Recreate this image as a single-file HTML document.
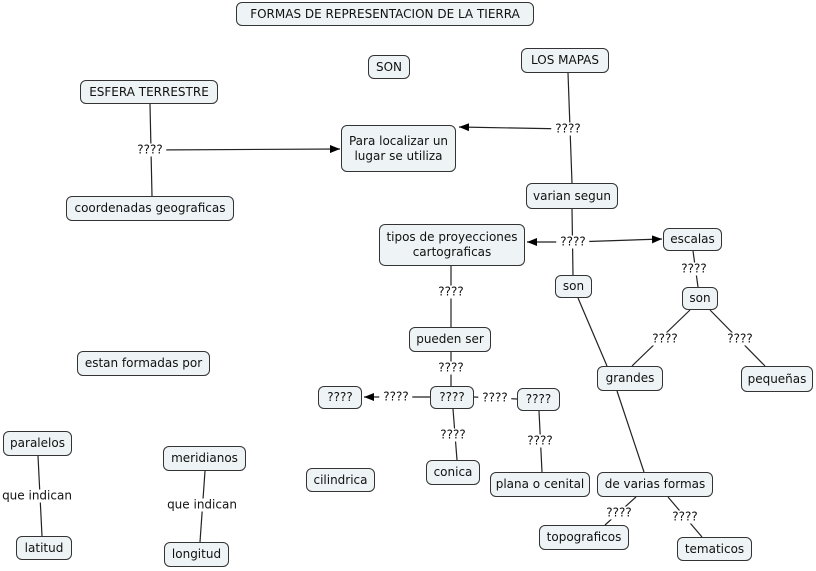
<!DOCTYPE html>
<html><head><meta charset="utf-8"><style>
body{margin:0;width:816px;height:571px;background:#fff;position:relative;overflow:hidden;font-family:"DejaVu Sans","Liberation Sans",sans-serif;font-size:12px;color:#111}
.n{position:absolute;box-sizing:border-box;border:1px solid #333;border-radius:6px;background:#eef3f5;display:flex;align-items:center;justify-content:center;text-align:center;line-height:15px;white-space:nowrap}
.l{position:absolute;background:#fff;transform:translate(-50%,-50%);line-height:13px;white-space:nowrap;padding:0 4px}
svg{position:absolute;left:0;top:0}
</style></head><body>
<svg width="816" height="571">
<defs><marker id="a" markerWidth="10" markerHeight="8" refX="10" refY="4" orient="auto" markerUnits="userSpaceOnUse"><path d="M0,0L10,4L0,8z" fill="#000"/></marker></defs>
<g stroke="#222" stroke-width="1.2" fill="none">
<line x1="568" y1="73" x2="572" y2="183"/>
<line x1="568" y1="129" x2="459" y2="127" marker-end="url(#a)"/>
<line x1="150" y1="104" x2="152" y2="196"/>
<line x1="150" y1="150" x2="340" y2="149" marker-end="url(#a)"/>
<line x1="572" y1="209" x2="573" y2="275"/>
<line x1="573" y1="242" x2="527" y2="242" marker-end="url(#a)"/>
<line x1="573" y1="242" x2="662" y2="239" marker-end="url(#a)"/>
<line x1="693" y1="251" x2="698" y2="287"/>
<line x1="690" y1="310" x2="632" y2="366"/>
<line x1="710" y1="310" x2="765" y2="366"/>
<line x1="578" y1="298" x2="607" y2="366"/>
<line x1="617" y1="391" x2="644" y2="472"/>
<line x1="636" y1="497" x2="605" y2="525"/>
<line x1="668" y1="497" x2="702" y2="537"/>
<line x1="451" y1="266" x2="451" y2="327"/>
<line x1="451" y1="352" x2="451" y2="386"/>
<line x1="430" y1="397" x2="364" y2="397" marker-end="url(#a)"/>
<line x1="474" y1="397" x2="517" y2="399"/>
<line x1="453" y1="409" x2="457" y2="460"/>
<line x1="539" y1="411" x2="542" y2="472"/>
<line x1="38" y1="456" x2="42" y2="536"/>
<line x1="205" y1="471" x2="200" y2="542"/>
</g></svg>
<div class="l" style="left:568px;top:129px">????</div>
<div class="l" style="left:150px;top:150px">????</div>
<div class="l" style="left:573px;top:242px">????</div>
<div class="l" style="left:694px;top:269px">????</div>
<div class="l" style="left:665px;top:339px">????</div>
<div class="l" style="left:740px;top:339px">????</div>
<div class="l" style="left:619px;top:513px">????</div>
<div class="l" style="left:685px;top:517px">????</div>
<div class="l" style="left:451px;top:292px">????</div>
<div class="l" style="left:451px;top:368px">????</div>
<div class="l" style="left:396px;top:397px">????</div>
<div class="l" style="left:495px;top:398px">????</div>
<div class="l" style="left:453px;top:435px">????</div>
<div class="l" style="left:540px;top:441px">????</div>
<div class="l" style="left:37px;top:496px">que indican</div>
<div class="l" style="left:202px;top:505px">que indican</div>

<div class="n" style="left:236px;top:2px;width:298px;height:24px">FORMAS DE REPRESENTACION DE LA TIERRA</div>
<div class="n" style="left:368px;top:55px;width:42px;height:24px">SON</div>
<div class="n" style="left:521px;top:48px;width:88px;height:25px">LOS MAPAS</div>
<div class="n" style="left:80px;top:80px;width:138px;height:24px">ESFERA TERRESTRE</div>
<div class="n" style="left:341px;top:125px;width:115px;height:47px">Para localizar un<br>lugar se utiliza</div>
<div class="n" style="left:66px;top:196px;width:168px;height:25px">coordenadas geograficas</div>
<div class="n" style="left:526px;top:183px;width:92px;height:26px">varian segun</div>
<div class="n" style="left:379px;top:224px;width:146px;height:42px">tipos de proyecciones<br>cartograficas</div>
<div class="n" style="left:663px;top:228px;width:59px;height:23px">escalas</div>
<div class="n" style="left:555px;top:275px;width:37px;height:23px">son</div>
<div class="n" style="left:682px;top:287px;width:36px;height:23px">son</div>
<div class="n" style="left:409px;top:327px;width:82px;height:25px">pueden ser</div>
<div class="n" style="left:77px;top:351px;width:133px;height:25px">estan formadas por</div>
<div class="n" style="left:597px;top:366px;width:66px;height:25px">grandes</div>
<div class="n" style="left:741px;top:366px;width:72px;height:26px">pequeñas</div>
<div class="n" style="left:318px;top:386px;width:44px;height:23px">????</div>
<div class="n" style="left:430px;top:386px;width:44px;height:23px">????</div>
<div class="n" style="left:517px;top:388px;width:43px;height:23px">????</div>
<div class="n" style="left:3px;top:431px;width:69px;height:25px">paralelos</div>
<div class="n" style="left:163px;top:446px;width:83px;height:25px">meridianos</div>
<div class="n" style="left:306px;top:468px;width:69px;height:24px">cilindrica</div>
<div class="n" style="left:426px;top:460px;width:54px;height:25px">conica</div>
<div class="n" style="left:490px;top:472px;width:100px;height:25px">plana o cenital</div>
<div class="n" style="left:597px;top:472px;width:116px;height:25px">de varias formas</div>
<div class="n" style="left:539px;top:525px;width:90px;height:25px">topograficos</div>
<div class="n" style="left:677px;top:537px;width:75px;height:24px">tematicos</div>
<div class="n" style="left:16px;top:536px;width:56px;height:24px">latitud</div>
<div class="n" style="left:164px;top:542px;width:65px;height:25px">longitud</div>
</body></html>
